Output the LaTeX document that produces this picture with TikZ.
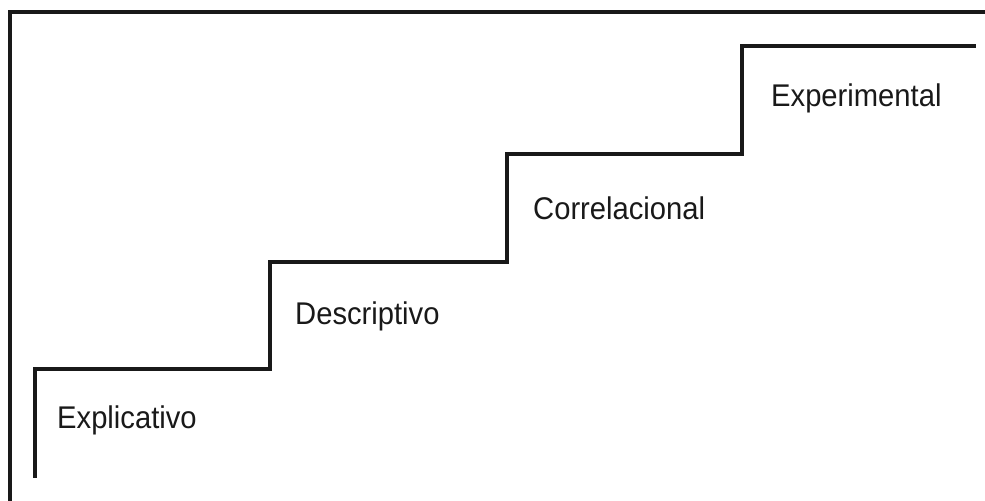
\documentclass[tikz,border=0pt]{standalone}
\usepackage{fontspec}
\setmainfont{Liberation Sans}[FakeStretch=0.93]

\begin{document}
\begin{tikzpicture}[x=1bp,y=1bp]
\useasboundingbox (0,0) rectangle (985,501);
\tikzset{nivel/.style={inner sep=0pt, anchor=base west, font=\fontsize{31.5}{36}\selectfont, text=black!90}}

\node[nivel] (1) at (57,72) {Explicativo};
\node[nivel] (2) at (295,176) {Descriptivo};
\node[nivel] (3) at (533,281) {Correlacional};
\node[nivel] (4) at (771,394) {Experimental};

\path[draw,line width=3.3bp,black!90] (10,0) -- (10,489) -- (985,489);
\path[draw,line width=3.3bp,black!90] (35,23) -- (35,132) -- (270,132) -- (270,239) -- (507,239) -- (507,347) -- (742,347) -- (742,455) -- (976,455);
\end{tikzpicture}
\end{document}
